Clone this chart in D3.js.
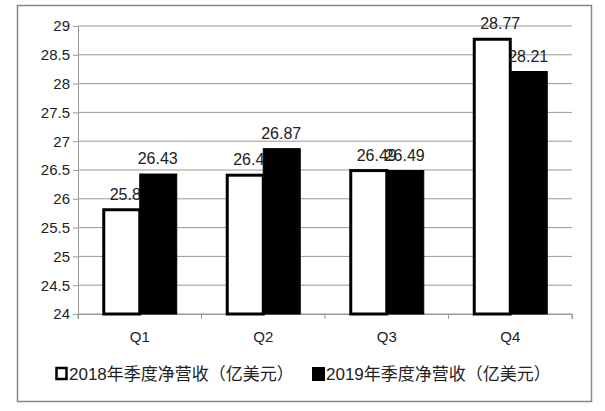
<!DOCTYPE html>
<html><head><meta charset="utf-8">
<script src="https://cdn.jsdelivr.net/npm/d3@7"></script>
<style>body{margin:0;background:#fff}text{font-family:"Liberation Sans","Noto Sans CJK SC",sans-serif}</style>
</head><body><svg id="c" width="605" height="411"></svg>
<script>
const quarters = ['Q1', 'Q2', 'Q3', 'Q4'];
const series = ['2018年季度净营收（亿美元）', '2019年季度净营收（亿美元）'];
const v2018 = [25.81, 26.41, 26.49, 28.77];
const v2019 = [26.43, 26.87, 26.49, 28.21];
const yTicks = [24, 24.5, 25, 25.5, 26, 26.5, 27, 27.5, 28, 28.5, 29];

const MARGIN = { left: 78, right: 33, top: 26, bottom: 97 };
const W = 605, H = 411;
const svg = d3.select('#c');

svg.append('rect').attr('x', 17.5).attr('y', 5.5).attr('width', 574).attr('height', 396)
  .attr('fill', 'none').attr('stroke', '#888').attr('stroke-width', 1.5);

const x = d3.scaleBand().domain(quarters).range([MARGIN.left, W - MARGIN.right]);
const y = d3.scaleLinear().domain([24, 29]).range([H - MARGIN.bottom, MARGIN.top]);
const bw = 36;

// gridlines
svg.append('g').selectAll('line').data(yTicks).join('line')
  .attr('x1', MARGIN.left).attr('x2', W - MARGIN.right)
  .attr('y1', d => y(d)).attr('y2', d => y(d)).attr('stroke', '#999').attr('stroke-width', 1);

const ya = svg.append('g').attr('transform', `translate(${MARGIN.left},0)`)
  .call(d3.axisLeft(y).tickValues(yTicks).tickFormat(d3.format('')).tickSize(5));
ya.select('.domain').attr('stroke', '#999');
ya.selectAll('.tick line').attr('stroke', '#999');
ya.selectAll('text').attr('font-size', 15).attr('fill', '#222');

const xa = svg.append('g').attr('transform', `translate(0,${y(24)})`)
  .call(d3.axisBottom(x).tickSize(5).tickPadding(12));
xa.select('.domain').attr('stroke', '#999');
xa.selectAll('.tick line').attr('stroke', '#999').attr('transform', `translate(${-x.bandwidth() / 2},0)`);
xa.append('line').attr('x1', W - MARGIN.right).attr('x2', W - MARGIN.right).attr('y1', 0).attr('y2', 5).attr('stroke', '#999');
xa.selectAll('text').attr('font-size', 15).attr('fill', '#222');

const cx = q => x(q) + x.bandwidth() / 2;

// 2018 bars and labels (labels sit partly under the 2019 bars)
svg.append('g').selectAll('rect').data(v2018).join('rect')
  .attr('x', (d, i) => cx(quarters[i]) - bw).attr('y', d => y(d))
  .attr('width', bw).attr('height', d => y(24) - y(d))
  .attr('fill', '#fff').attr('stroke', '#000').attr('stroke-width', 3);
svg.append('g').selectAll('text').data(v2018).join('text')
  .attr('x', (d, i) => cx(quarters[i]) - bw / 2 + 8).attr('y', d => y(d) - 10)
  .attr('text-anchor', 'middle').attr('font-size', 16).attr('fill', '#222').text(d => d);

// 2019 bars and labels
svg.append('g').selectAll('rect').data(v2019).join('rect')
  .attr('x', (d, i) => cx(quarters[i])).attr('y', d => y(d))
  .attr('width', bw + 1).attr('height', d => y(24) - y(d))
  .attr('fill', '#000').attr('stroke', '#000').attr('stroke-width', 1);
svg.append('g').selectAll('text').data(v2019).join('text')
  .attr('x', (d, i) => cx(quarters[i]) + bw / 2).attr('y', d => y(d) - 10)
  .attr('text-anchor', 'middle').attr('font-size', 16).attr('fill', '#222').text(d => d);

// legend
const lg = svg.append('g').attr('transform', 'translate(55,375)');
lg.append('rect').attr('x', 1.5).attr('y', -7).attr('width', 10).attr('height', 11)
  .attr('fill', '#fff').attr('stroke', '#000').attr('stroke-width', 2.5);
lg.append('text').attr('x', 14).attr('y', 5).attr('font-size', 17).attr('fill', '#222').text(series[0]);
lg.append('rect').attr('x', 257).attr('y', -8).attr('width', 13).attr('height', 14).attr('fill', '#000');
lg.append('text').attr('x', 271).attr('y', 5).attr('font-size', 17).attr('fill', '#222').text(series[1]);
</script></body></html>
